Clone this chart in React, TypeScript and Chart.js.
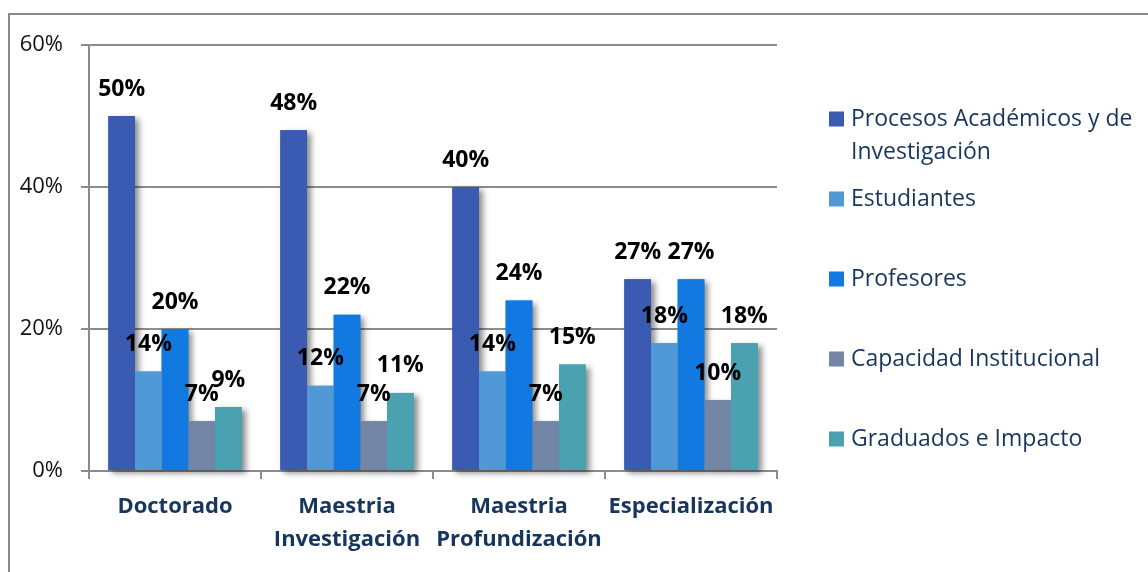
import React, { useEffect, useRef } from "react";
import { Chart, registerables } from "chart.js";

Chart.register(...registerables);

const categories: (string | string[])[] = [
  "Doctorado",
  ["Maestria", "Investigación"],
  ["Maestria", "Profundización"],
  "Especialización",
];

const seriesNames = [
  "Procesos Académicos y de Investigación",
  "Estudiantes",
  "Profesores",
  "Capacidad Institucional",
  "Graduados e Impacto",
];

const procesos = [50, 48, 40, 27];
const estudiantes = [14, 12, 14, 18];
const profesores = [20, 22, 24, 27];
const capacidad = [7, 7, 7, 10];
const graduados = [9, 11, 15, 18];

const seriesValues = [procesos, estudiantes, profesores, capacidad, graduados];
const seriesColors = ["#3A5BB1", "#5198D7", "#1279E1", "#7486A6", "#4AA2B0"];

const yTicks = [0, 20, 40, 60];

const FONT = "'Open Sans', 'Noto Sans', sans-serif";
const GRID = "#8c8c8c";
const NAVY = "#17365D";

const shadowPlugin = {
  id: "barShadow",
  beforeDatasetsDraw(chart: any) {
    const ctx = chart.ctx;
    ctx.save();
    chart.data.datasets.forEach((ds: any, i: number) => {
      const meta = chart.getDatasetMeta(i);
      meta.data.forEach((el: any) => {
        const { x, y, base, width } = el.getProps(["x", "y", "base", "width"], true);
        ctx.shadowColor = "rgba(0,0,0,0.45)";
        ctx.shadowBlur = 6;
        ctx.shadowOffsetX = 4;
        ctx.shadowOffsetY = 3;
        ctx.fillStyle = ds.backgroundColor;
        ctx.fillRect(x - width / 2, y, width, base - y);
      });
    });
    ctx.restore();
  },
};

const labelPlugin = {
  id: "valueLabels",
  afterDatasetsDraw(chart: any) {
    const ctx = chart.ctx;
    ctx.save();
    ctx.font = `bold 23px ${FONT}`;
    ctx.fillStyle = "#000";
    ctx.textAlign = "center";
    ctx.textBaseline = "middle";
    chart.data.datasets.forEach((ds: any, i: number) => {
      const meta = chart.getDatasetMeta(i);
      meta.data.forEach((el: any, j: number) => {
        ctx.fillText(`${ds.data[j]}%`, el.x, el.y - 27);
      });
    });
    ctx.restore();
  },
};

const legendPlugin = {
  id: "sideLegend",
  afterDraw(chart: any) {
    const ctx = chart.ctx;
    const area = chart.chartArea;
    ctx.save();
    ctx.font = `23px ${FONT}`;
    ctx.textBaseline = "middle";
    ctx.textAlign = "left";
    const boxX = area.right + 52;
    const textX = boxX + 22;
    const maxW = chart.width - textX - 1;
    const startY = area.top + 74;
    const step = 80;
    const lineH = 33;
    chart.data.datasets.forEach((ds: any, i: number) => {
      const cy = startY + i * step;
      ctx.fillStyle = ds.backgroundColor;
      ctx.fillRect(boxX, cy - 7.5, 15, 15);
      const words = String(ds.label).split(" ");
      const lines: string[] = [];
      let cur = "";
      words.forEach((w) => {
        const t = cur ? cur + " " + w : w;
        if (ctx.measureText(t).width > maxW && cur) {
          lines.push(cur);
          cur = w;
        } else cur = t;
      });
      if (cur) lines.push(cur);
      ctx.fillStyle = NAVY;
      lines.forEach((ln, k) => ctx.fillText(ln, textX, cy + k * lineH));
    });
    ctx.restore();
  },
};

export default function App() {
  const ref = useRef<HTMLCanvasElement | null>(null);
  useEffect(() => {
    if (!ref.current) return;
    const chart = new Chart(ref.current, {
      type: "bar",
      data: {
        labels: categories,
        datasets: seriesNames.map((name, i) => ({
          label: name,
          data: seriesValues[i],
          backgroundColor: seriesColors[i],
          borderWidth: 0,
          barPercentage: 1,
          categoryPercentage: 0.775,
        })),
      },
      options: {
        animation: false,
        responsive: false,
        maintainAspectRatio: false,
        layout: { padding: { left: 0, top: 37, right: 363, bottom: 0 } },
        plugins: {
          legend: { display: false },
          tooltip: { enabled: false },
          title: { display: false },
        },
        scales: {
          x: {
            grid: {
              display: true,
              drawOnChartArea: false,
              drawTicks: true,
              tickLength: 8,
              offset: true,
              color: GRID,
              lineWidth: 2,
            },
            border: { display: true, color: GRID, width: 2 },
            ticks: {
              color: NAVY,
              padding: 11.5,
              font: { family: FONT, size: 22, weight: "bold", lineHeight: "33px" },
              maxRotation: 0,
              autoSkip: false,
            },
            afterFit(scale: any) {
              scale.height = 93;
            },
          },
          y: {
            min: yTicks[0],
            max: yTicks[yTicks.length - 1],
            afterBuildTicks(scale: any) {
              scale.ticks = yTicks.map((v) => ({ value: v }));
            },
            grid: { color: GRID, lineWidth: 2, tickLength: 8, drawTicks: true },
            border: { display: true, color: GRID, width: 2 },
            ticks: {
              color: "#111",
              padding: 18,
              font: { family: FONT, size: 22 },
              callback: (v: any) => `${v}%`,
            },
            afterFit(scale: any) {
              scale.width = 81;
            },
          },
        },
      },
      plugins: [shadowPlugin, labelPlugin, legendPlugin],
    });
    return () => chart.destroy();
  }, []);

  return (
    <div style={{ position: "relative", width: 1132, height: 556 }}>
      <div
        style={{
          position: "fixed",
          left: 8,
          top: 13,
          width: 2000,
          height: 2000,
          borderLeft: "2px solid #8a8a8a",
          borderTop: "2px solid #8a8a8a",
          pointerEvents: "none",
        }}
      />
      <canvas
        ref={ref}
        width={1132}
        height={556}
        style={{ position: "absolute", left: 0, top: 0, width: 1132, height: 556 }}
      />
    </div>
  );
}
